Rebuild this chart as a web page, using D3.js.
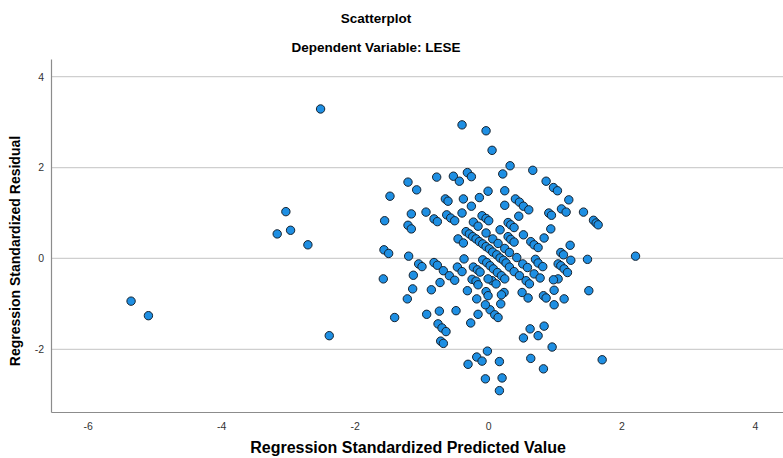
<!DOCTYPE html>
<html>
<head>
<meta charset="utf-8">
<script src="https://cdn.jsdelivr.net/npm/d3@7"></script>
<style>
  body { margin: 0; background: #fff; }
  text { font-family: "Liberation Sans", Arial, sans-serif; }
</style>
</head>
<body>
<div id="chart"></div>
<script>
// regression standardized predicted value / standardized residual
var predicted = [-5.35,-5.09,-3.03,-3.16,-2.96,-2.70,-2.51,-2.38,2.21,1.71,1.51,
  -0.39,-0.03,0.06,-1.20,-1.07,-0.77,-0.52,-0.43,-0.31,-0.25,-1.47,0.00,0.33,0.67,0.22,0.87,0.98,1.04,0.25,
  -0.64,-0.60,-0.37,-0.13,-0.25,1.21,0.41,0.47,0.53,0.61,0.25,-1.15,-0.93,-1.55,-0.81,-0.76,-0.62,-0.56,-0.50,-0.39,
  -0.09,-0.03,0.01,-0.22,-0.15,-1.20,-1.15,1.10,1.17,1.43,0.91,0.95,1.58,1.62,1.65,0.46,0.30,0.34,0.39,0.94,
  0.18,0.53,0.84,0.30,0.34,0.39,0.07,0.64,0.69,0.75,0.15,0.25,0.32,1.23,1.09,1.13,0.43,0.71,1.49,
  -0.33,-0.28,-0.23,-0.18,-0.13,-0.08,-0.03,0.02,0.07,0.13,0.18,0.23,0.27,-0.03,-0.45,-0.37,-1.56,-1.49,-1.19,-0.36,
  -0.08,-0.02,0.03,0.08,0.14,0.20,0.25,0.32,0.39,0.47,0.06,0.12,0.57,0.62,0.52,0.59,0.69,0.78,0.75,0.82,
  1.24,1.05,1.09,1.14,1.19,1.05,0.24,0.51,0.60,0.83,0.87,0.99,1.14,0.99,0.19,0.03,0.10,0.15,0.63,0.84,
  0.53,0.75,0.96,0.64,0.17,0.83,0.21,0.17,-0.04,-0.01,-0.17,-0.09,-0.30,
  -1.04,-0.99,-0.81,-0.76,-0.67,-0.58,-0.50,-0.46,-0.39,-0.22,-0.16,-0.12,-0.24,-0.18,-0.15,0.00,
  -1.57,-1.12,-1.13,-0.72,-0.85,-0.31,-0.03,-1.21,-0.17,-0.04,-0.73,-0.48,-0.92,-1.40,-0.15,-0.26,
  -0.75,-0.69,-0.63,-0.71,-0.67,0.00,0.20,0.98];
var residual = [-0.94,-1.26,1.03,0.54,0.62,0.30,3.29,-1.70,0.05,-2.23,-0.71,
  2.94,2.81,2.38,1.68,1.51,1.79,1.81,1.70,1.89,1.80,1.37,1.48,2.04,1.94,1.86,1.70,1.56,1.49,1.49,
  1.31,1.26,1.31,1.34,1.15,1.29,1.31,1.24,1.15,1.07,1.17,0.98,1.02,0.83,0.87,0.81,0.96,0.89,0.83,1.00,
  0.94,0.88,0.83,0.80,0.71,0.73,0.65,1.09,1.02,1.02,1.00,0.95,0.84,0.78,0.74,0.93,0.79,0.74,0.68,0.65,
  0.63,0.52,0.45,0.48,0.42,0.36,0.43,0.37,0.30,0.24,0.33,0.22,0.13,0.29,0.13,0.08,0.02,-0.02,-0.02,
  0.59,0.54,0.48,0.43,0.37,0.32,0.26,0.21,0.14,0.08,0.01,-0.04,-0.10,0.56,0.43,0.34,0.19,0.11,0.05,-0.01,
  -0.03,-0.09,-0.16,-0.23,-0.31,-0.38,-0.45,-0.19,-0.29,-0.38,-0.49,-0.56,-0.49,-0.56,-0.12,-0.20,-0.34,-0.43,-0.10,-0.18,
  -0.04,-0.12,-0.16,-0.23,-0.31,-0.45,-0.75,-0.75,-0.87,-0.82,-0.87,-0.70,-0.89,-1.02,-1.00,-1.13,-1.24,-1.30,-1.55,-1.49,
  -1.75,-1.70,-1.95,-2.20,-2.27,-2.43,-2.63,-2.91,-2.65,-2.04,-2.17,-2.26,-2.33,
  -0.12,-0.18,-0.09,-0.15,-0.27,-0.38,-0.48,-0.19,-0.29,-0.19,-0.25,-0.30,-0.46,-0.50,-0.58,-0.45,
  -0.45,-0.37,-0.67,-0.53,-0.69,-0.71,-0.73,-0.89,-0.89,-1.02,-1.16,-1.15,-1.23,-1.30,-1.23,-1.42,
  -1.44,-1.53,-1.61,-1.82,-1.87,-0.82,-0.80,-0.47];
var xTicks = [-6, -4, -2, 0, 2, 4];
var yTicks = [-2, 0, 2, 4];

window.onload = function() {
  var width = 783, height = 458;
  var plotLeft = 51, plotRight = 783, plotTop = 59, plotBottom = 412;

  var svg = d3.select("#chart").append("svg")
      .attr("width", width)
      .attr("height", height);

  var x = d3.scaleLinear().domain([-6.55, 4.42]).range([plotLeft, plotRight]);
  var y = d3.scaleLinear().domain([-3.38, 4.39]).range([plotBottom, plotTop]);

  // horizontal grid lines
  svg.append("g")
    .selectAll("line")
    .data(yTicks)
    .enter().append("line")
      .attr("x1", plotLeft).attr("x2", plotRight)
      .attr("y1", function(d) { return y(d); })
      .attr("y2", function(d) { return y(d); })
      .style("stroke", "#cfcfcf")
      .style("stroke-width", 1.3);

  // axes, hyphen minus like the original
  var fmt = function(d) { return String(d); };
  var xAxis = svg.append("g")
      .attr("transform", "translate(0," + plotBottom + ")")
      .call(d3.axisBottom(x).tickValues(xTicks).tickFormat(fmt).tickSize(0).tickPadding(11));
  var yAxis = svg.append("g")
      .attr("transform", "translate(" + plotLeft + ",0)")
      .call(d3.axisLeft(y).tickValues(yTicks).tickFormat(fmt).tickSize(0).tickPadding(7));

  [xAxis, yAxis].forEach(function(a) {
    a.select(".domain").style("stroke", "#8c8c8c").style("stroke-width", 1.2);
    a.selectAll("text")
      .style("font-family", "'Liberation Sans', Arial, sans-serif")
      .style("font-size", "10.5px")
      .style("fill", "#333");
  });

  // points
  var data = predicted.map(function(p, i) { return [p, residual[i]]; });
  svg.append("g")
    .selectAll("circle")
    .data(data)
    .enter().append("circle")
      .attr("cx", function(d) { return x(d[0]); })
      .attr("cy", function(d) { return y(d[1]); })
      .attr("r", 4.2)
      .style("fill", "#1e8fe3")
      .style("stroke", "#16222e")
      .style("stroke-width", 1);

  // titles
  svg.append("text")
      .attr("x", 376).attr("y", 23)
      .attr("text-anchor", "middle")
      .style("font-weight", "bold").style("font-size", "13.5px")
      .text("Scatterplot");
  svg.append("text")
      .attr("x", 376).attr("y", 52)
      .attr("text-anchor", "middle")
      .style("font-weight", "bold").style("font-size", "13.5px")
      .text("Dependent Variable: LESE");
  svg.append("text")
      .attr("x", 408).attr("y", 453)
      .attr("text-anchor", "middle")
      .style("font-weight", "bold").style("font-size", "16px")
      .text("Regression Standardized Predicted Value");
  svg.append("text")
      .attr("transform", "translate(20,251) rotate(-90)")
      .attr("text-anchor", "middle")
      .style("font-weight", "bold").style("font-size", "14px")
      .text("Regression Standardized Residual");
};
</script>
</body>
</html>
